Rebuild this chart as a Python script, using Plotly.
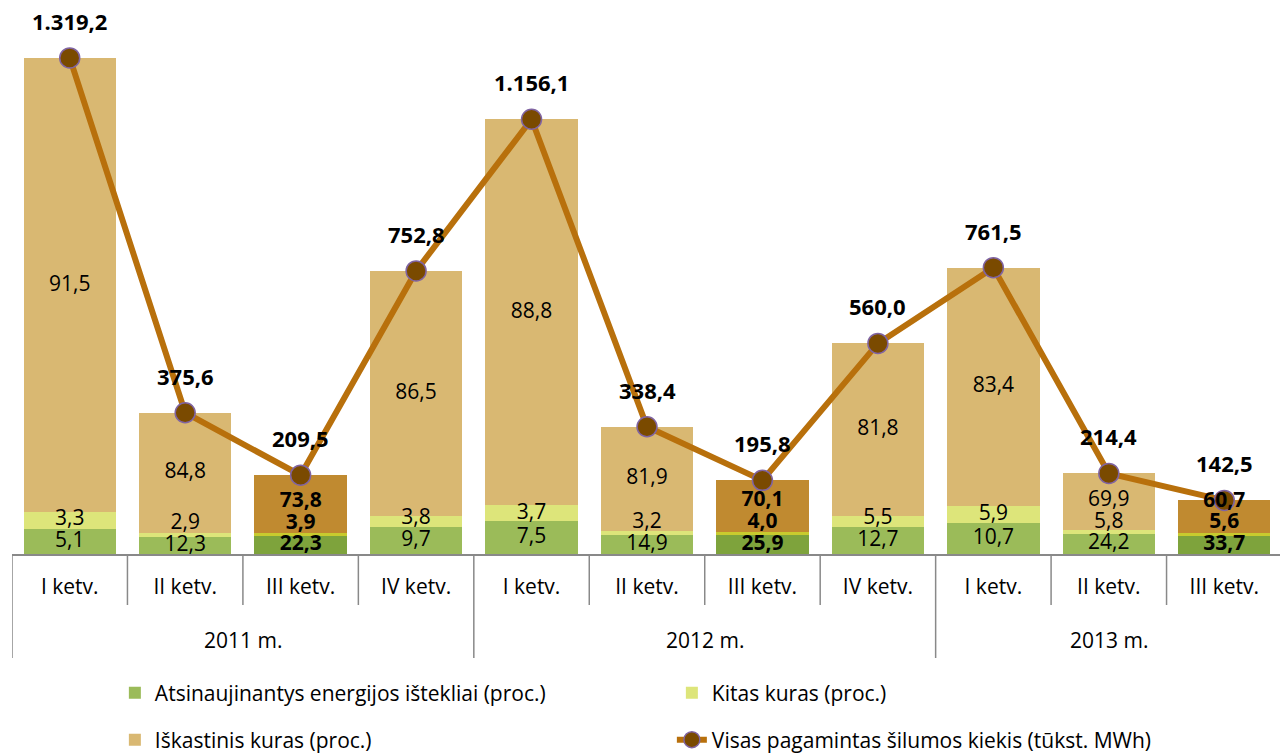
import plotly.graph_objects as go

# data
years = ["2011 m.", "2012 m.", "2013 m."]
year_counts = [4, 4, 3]
quarters = ["I ketv.", "II ketv.", "III ketv.", "IV ketv.",
            "I ketv.", "II ketv.", "III ketv.", "IV ketv.",
            "I ketv.", "II ketv.", "III ketv."]
total = [1319.2, 375.6, 209.5, 752.8, 1156.1, 338.4, 195.8, 560.0, 761.5, 214.4, 142.5]
renewable = [5.1, 12.3, 22.3, 9.7, 7.5, 14.9, 25.9, 12.7, 10.7, 24.2, 33.7]
other = [3.3, 2.9, 3.9, 3.8, 3.7, 3.2, 4.0, 5.5, 5.9, 5.8, 5.6]
fossil = [91.5, 84.8, 73.8, 86.5, 88.8, 81.9, 70.1, 81.8, 83.4, 69.9, 60.7]

highlight = [q == "III ketv." for q in quarters]
x = list(range(len(quarters)))
FONT = "Open Sans"


def fmt(v):
    return f"{v:,.1f}".replace(",", " ").replace(".", ",").replace(" ", ".")


def pick(flags, a, b):
    return [b if f else a for f in flags]


h_r = [t * p / 100 for t, p in zip(total, renewable)]
h_o = [t * p / 100 for t, p in zip(total, other)]
h_f = [t * p / 100 for t, p in zip(total, fossil)]

fig = go.Figure()

series = [
    ("Atsinaujinantys energijos ištekliai (proc.)", h_r, "#9BBB59", "#7EA33C", "legend"),
    ("Kitas kuras (proc.)", h_o, "#DDE57A", "#C8CB2E", "legend"),
    ("Iškastinis kuras (proc.)", h_f, "#D9B872", "#C08A30", "legend2"),
]
for name, h, col, hcol, lg in series:
    fig.add_trace(go.Bar(
        x=x, y=h, name=name, legend=lg,
        marker=dict(color=pick(highlight, col, hcol), line=dict(width=0)),
    ))

fig.add_trace(go.Scatter(
    x=x, y=total, mode="lines+markers", legend="legend2",
    name="Visas pagamintas šilumos kiekis (tūkst. MWh)",
    line=dict(color="#B8700C", width=6),
    marker=dict(size=20, color="#7A4A00", line=dict(color="#8064A2", width=1.5)),
    cliponaxis=False,
))

# segment labels, nudged up when too close to the one below
ymax = 1452
gap = 58
lab_x, lab_y, lab_t = [], [], []
for i in x:
    base = 0
    prev = None
    for h, pct in ((h_r[i], renewable[i]), (h_o[i], other[i]), (h_f[i], fossil[i])):
        c = base + h / 2
        if prev is not None:
            c = max(c, prev + gap)
        prev = c
        base += h
        lab_x.append(i)
        lab_y.append(c)
        t = fmt(pct)
        lab_t.append(f"<b>{t}</b>" if highlight[i] else t)

fig.add_trace(go.Scatter(
    x=lab_x, y=lab_y, text=lab_t, mode="text", showlegend=False,
    textfont=dict(family=FONT, size=21, color="#000000"), cliponaxis=False,
    hoverinfo="skip",
))

for i in x:
    fig.add_annotation(
        x=i, y=total[i], text=f"<b>{fmt(total[i])}</b>", showarrow=False,
        yshift=37, font=dict(family=FONT, size=22, color="#000000"),
    )

# category table under the axis
plot_h = 546
grid = "#898989"
start = 0
bounds = [start - 0.5]
for n in year_counts:
    start += n
    bounds.append(start - 0.5)
for b in range(len(quarters) + 1):
    xb = b - 0.5
    long_line = xb in bounds
    fig.add_shape(type="line", xref="x", yref="paper", x0=xb, x1=xb,
                  y0=0, y1=-(104 if long_line else 51) / plot_h,
                  line=dict(color=grid, width=1.5))

start = 0
for yr, n in zip(years, year_counts):
    fig.add_annotation(x=start + (n - 1) / 2, y=-86 / plot_h, xref="x", yref="paper",
                       text=yr, showarrow=False, yanchor="middle",
                       font=dict(family=FONT, size=21, color="#000000"))
    start += n

fig.update_layout(
    width=1280, height=746,
    margin=dict(l=4, r=6, t=0, b=200, autoexpand=False),
    barmode="stack", bargap=0.2,
    plot_bgcolor="white", paper_bgcolor="white",
    font=dict(family=FONT, size=21, color="#000000"),
    xaxis=dict(range=[-0.5, len(quarters) - 0.5], tickmode="array", tickvals=x,
               ticktext=quarters, ticks="", showline=True, linecolor=grid, linewidth=1.5,
               showgrid=False, zeroline=False, ticklabelstandoff=13,
               tickfont=dict(family=FONT, size=21, color="#000000")),
    yaxis=dict(range=[0, ymax], visible=False, showgrid=False, zeroline=False),
    legend=dict(orientation="h", x=0.081, y=-139 / plot_h, xanchor="left", yanchor="middle",
                entrywidth=512, entrywidthmode="pixels", font=dict(size=21),
                traceorder="normal", bgcolor="rgba(0,0,0,0)"),
    legend2=dict(orientation="h", x=0.081, y=-186 / plot_h, xanchor="left", yanchor="middle",
                 entrywidth=512, entrywidthmode="pixels", font=dict(size=21),
                 traceorder="normal", bgcolor="rgba(0,0,0,0)"),
    showlegend=True,
)

fig.write_html("out.html")
